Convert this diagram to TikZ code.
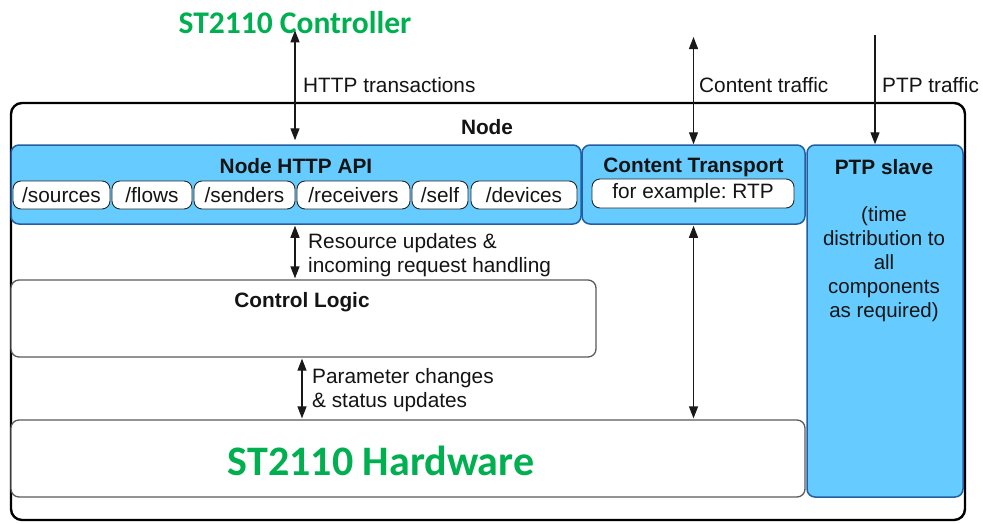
\documentclass[tikz,border=0pt]{standalone}
\usepackage{fontspec}
\setmainfont{Liberation Sans}
\newfontfamily\greenfont{Carlito}
\usetikzlibrary{arrows.meta}
\frenchspacing
\definecolor{bluefill}{RGB}{102,204,255}
\definecolor{blueline}{RGB}{35,95,160}
\definecolor{officegreen}{RGB}{0,176,80}
\definecolor{darktext}{RGB}{20,20,20}
\definecolor{grayline}{RGB}{90,90,90}
\tikzset{
  outerbox/.style={draw=black, line width=2.4pt, rounded corners=11pt, inner sep=0pt},
  bluebox/.style={draw=blueline, fill=bluefill, line width=1.5pt, rounded corners=8pt, inner sep=0pt},
  whitebox/.style={draw=grayline, fill=white, line width=1.3pt, rounded corners=8pt, inner sep=0pt},
  pill/.style={draw=black!85, fill=white, line width=0.9pt, rounded corners=8pt, inner sep=0pt, minimum height=28pt, font=\fontsize{20.8}{24}\selectfont, text=darktext},
  title/.style={font=\bfseries\fontsize{20.8}{24}\selectfont, text=darktext, inner sep=0pt},
  lbl/.style={font=\fontsize{20.8}{24}\selectfont, text=darktext, inner sep=0pt, anchor=west, align=left},
  greentxt/.style={font=\greenfont\bfseries, text=officegreen, inner sep=0pt},
  conn/.style={line width=1.3pt, draw=black!90, -{Triangle[length=12pt,width=9pt]}},
  bconn/.style={line width=1.3pt, draw=black!90, {Triangle[length=12pt,width=9pt]}-{Triangle[length=12pt,width=9pt]}}
}
\begin{document}
\begin{tikzpicture}[x=1pt,y=-1pt]
\useasboundingbox (0,0) rectangle (983,523);
\fill[white] (0,0) rectangle (983,523);
% outer node box
\node[outerbox, minimum width=954pt, minimum height=417pt] (outer) at (488,311.5) {};
\node[title] (nodelbl) at (487,127) {Node};
% blue boxes
\node[bluebox, minimum width=570pt, minimum height=79pt] (api) at (296,184.5) {};
\node[bluebox, minimum width=223pt, minimum height=79pt] (ct) at (693.5,184.5) {};
\node[bluebox, minimum width=156pt, minimum height=352pt] (ptp) at (885,321) {};
\node[title] (apilbl) at (296,166) {Node HTTP API};
\node[title] (ctlbl) at (693.5,167) {Content Transport};
\node[title] (ptplbl) at (884,167) {PTP slave};
\node[font=\fontsize{20.5}{24}\selectfont, text=darktext, inner sep=0pt, align=center] (ptptxt) at (884,264) {(time\\distribution to\\all\\components\\as required)};
% pills
\node[pill, minimum width=97pt] (p1) at (61.5,195) {/sources};
\node[pill, minimum width=80pt] (p2) at (152,195) {/flows};
\node[pill, minimum width=101pt] (p3) at (244.5,195) {/senders};
\node[pill, minimum width=113pt] (p4) at (353.5,195) {/receivers};
\node[pill, minimum width=56pt] (p5) at (440,195) {/self};
\node[pill, minimum width=106pt] (p6) at (524,195) {/devices};
\node[pill, minimum width=202pt, minimum height=29pt] (rtp) at (693,193.5) {for example: RTP};
% white boxes
\node[whitebox, minimum width=585pt, minimum height=77pt] (ctl) at (303.5,318.5) {};
\node[title] (ctllbl) at (302,302) {Control Logic};
\node[whitebox, minimum width=794pt, minimum height=77pt] (hw) at (408,458.5) {};
\node[greentxt, font=\greenfont\bfseries\fontsize{42}{46}\selectfont] (hwlbl) at (381,461) {ST2110 Hardware};
% controller
\node[greentxt, font=\greenfont\bfseries\fontsize{31.5}{34}\selectfont] (ctrl) at (295,23) {ST2110 Controller};
% top coordinates
\coordinate (ctop) at (693.5,37);
\coordinate (ptop) at (875,35);
% connectors
\draw[bconn] ([yshift=4pt]ctrl.south) -- ([yshift=4pt]ctrl.south |- api.north);
\draw[bconn] (ctop) -- (ct.north);
\draw[conn] (ptop) -- (ptop |- ptp.north);
\draw[bconn, shorten <=1pt, shorten >=1pt] (295,0 |- api.south) -- (295,0 |- ctl.north);
\draw[bconn, shorten <=1pt, shorten >=1pt] (302,0 |- ctl.south) -- (302,0 |- hw.north);
\draw[bconn, shorten <=1pt, shorten >=1pt] (ct.south) -- (ct.south |- hw.north);
% labels
\node[lbl] (l1) at (303,85) {HTTP transactions};
\node[lbl] (l2) at (699,85) {Content traffic};
\node[lbl] (l3) at (882,85) {PTP traffic};
\node[lbl] (l4) at (308,255.5) {Resource updates \&\\incoming request handling};
\node[lbl] (l5) at (312,390) {Parameter changes\\\& status updates};
\end{tikzpicture}
\end{document}
